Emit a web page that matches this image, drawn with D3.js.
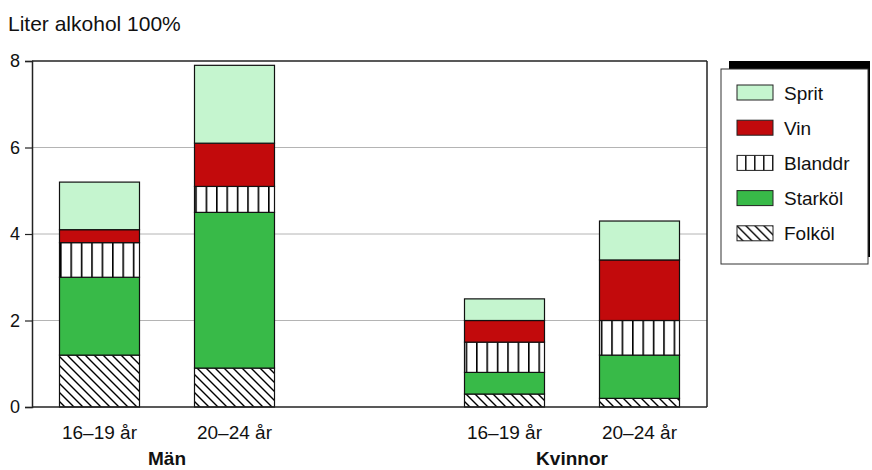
<!DOCTYPE html>
<html>
<head>
<meta charset="utf-8">
<script src="https://cdn.jsdelivr.net/npm/d3@7"></script>
<style>
  html, body { margin: 0; padding: 0; background: #fff; }
  svg { display: block; font-family: "Liberation Sans", Arial, sans-serif; }
</style>
</head>
<body>
<svg id="chart" width="872" height="470"></svg>
<script>
// Alcohol consumption (litres of pure alcohol) by sex and age group
const groups = ["Män", "Kvinnor"];
const ages = ["16–19 år", "20–24 år"];
const bars = ["m16", "m20", "k16", "k20"];
const barAge = ["16–19 år", "20–24 år", "16–19 år", "20–24 år"];
const barGroup = ["Män", "Män", "Kvinnor", "Kvinnor"];

// stacking order bottom -> top
const seriesKeys = ["Folköl", "Starköl", "Blanddr", "Vin", "Sprit"];
const folkol  = [1.2, 0.9, 0.3, 0.2];
const starkol = [1.8, 3.6, 0.5, 1.0];
const blanddr = [0.8, 0.6, 0.7, 0.8];
const vin     = [0.3, 1.0, 0.5, 1.4];
const sprit   = [1.1, 1.8, 0.5, 0.9];
const yTicks = [0, 2, 4, 6, 8];

const seriesValues = { "Folköl": folkol, "Starköl": starkol, "Blanddr": blanddr, "Vin": vin, "Sprit": sprit };

const svg = d3.select("#chart");
const plotLeft = 32, plotRight = 707, plotTop = 61, plotBottom = 407;

// patterns
const defs = svg.append("defs");
const diag = defs.append("pattern").attr("id", "pat-diag")
  .attr("patternUnits", "userSpaceOnUse").attr("width", 9).attr("height", 9);
diag.append("rect").attr("width", 9).attr("height", 9).attr("fill", "#fff");
diag.append("path").attr("d", "M-1,-1 L10,10 M-1,8 L1,10 M8,-1 L10,1")
  .attr("stroke", "#000").attr("stroke-width", 1.4);

const vert = defs.append("pattern").attr("id", "pat-vert")
  .attr("patternUnits", "userSpaceOnUse").attr("width", 10.4).attr("height", 10)
  .attr("x", 60);
vert.append("rect").attr("width", 10.4).attr("height", 10).attr("fill", "#fff");
vert.append("line").attr("x1", 0.8).attr("x2", 0.8).attr("y1", 0).attr("y2", 10)
  .attr("stroke", "#000").attr("stroke-width", 1.6);

const vertL = defs.append("pattern").attr("id", "pat-vert-l")
  .attr("patternUnits", "userSpaceOnUse").attr("width", 9).attr("height", 10)
  .attr("x", 737);
vertL.append("rect").attr("width", 9).attr("height", 10).attr("fill", "#fff");
vertL.append("line").attr("x1", 0.8).attr("x2", 0.8).attr("y1", 0).attr("y2", 10)
  .attr("stroke", "#000").attr("stroke-width", 1.4);

const fills = {
  "Folköl": "url(#pat-diag)",
  "Starköl": "#38ba48",
  "Blanddr": "url(#pat-vert)",
  "Vin": "#c20a0c",
  "Sprit": "#c5f5cf"
};
const legendFills = Object.assign({}, fills, { "Blanddr": "url(#pat-vert-l)" });

// scales: five slots, the middle one is the gap between the two groups
const x = d3.scaleBand()
  .domain(["m16", "m20", "gap", "k16", "k20"])
  .range([plotLeft, plotRight])
  .paddingInner(55 / 135)
  .paddingOuter(27.5 / 135);
const y = d3.scaleLinear().domain([0, 8]).range([plotBottom, plotTop]);

// gridlines
svg.append("g").selectAll("line").data(yTicks.filter(d => d > 0 && d < 8)).join("line")
  .attr("x1", plotLeft).attr("x2", plotRight)
  .attr("y1", d => y(d)).attr("y2", d => y(d))
  .attr("stroke", "#b4b4b4").attr("stroke-width", 1);

// stacked bars
const rows = bars.map((b, i) => {
  const r = { key: b };
  seriesKeys.forEach(k => r[k] = seriesValues[k][i]);
  return r;
});
const stacked = d3.stack().keys(seriesKeys)(rows);

svg.append("g").selectAll("g").data(stacked).join("g")
  .attr("fill", d => fills[d.key])
  .selectAll("rect").data(d => d).join("rect")
  .attr("x", d => x(d.data.key))
  .attr("width", x.bandwidth())
  .attr("y", d => y(d[1]))
  .attr("height", d => y(d[0]) - y(d[1]))
  .attr("stroke", "#111").attr("stroke-width", 1.2);

// frame: top line, right border, baseline
svg.append("line").attr("x1", plotLeft).attr("x2", plotRight).attr("y1", y(8)).attr("y2", y(8))
  .attr("stroke", "#222").attr("stroke-width", 1.5);
svg.append("line").attr("x1", plotRight).attr("x2", plotRight).attr("y1", y(8)).attr("y2", y(0))
  .attr("stroke", "#222").attr("stroke-width", 1.5);
svg.append("line").attr("x1", plotLeft).attr("x2", plotRight).attr("y1", y(0)).attr("y2", y(0))
  .attr("stroke", "#222").attr("stroke-width", 1.5);

// y axis
const yAxis = svg.append("g").attr("transform", `translate(${plotLeft},0)`)
  .call(d3.axisLeft(y).tickValues(yTicks).tickSize(7).tickPadding(5).tickFormat(d3.format("d")));
yAxis.select(".domain").attr("stroke", "#222").attr("stroke-width", 1.5);
yAxis.selectAll(".tick line").attr("stroke", "#222").attr("stroke-width", 1.2);
yAxis.selectAll(".tick text").attr("font-size", 18).attr("fill", "#111")
  .attr("font-family", "Liberation Sans, Arial, sans-serif");

// category labels
svg.append("g").selectAll("text").data(bars).join("text")
  .attr("x", d => x(d) + x.bandwidth() / 2)
  .attr("y", 439)
  .attr("text-anchor", "middle")
  .attr("font-size", 19).attr("fill", "#111")
  .text((d, i) => barAge[i]);

// group labels
svg.append("g").selectAll("text").data(groups).join("text")
  .attr("x", g => {
    const idx = bars.filter((b, i) => barGroup[i] === g);
    return (x(idx[0]) + x(idx[idx.length - 1]) + x.bandwidth()) / 2;
  })
  .attr("y", 465)
  .attr("text-anchor", "middle")
  .attr("font-size", 19).attr("font-weight", "bold").attr("fill", "#111")
  .text(g => g);

// y axis title
svg.append("text").attr("x", 8).attr("y", 31)
  .attr("font-size", 21).attr("fill", "#111")
  .text("Liter alkohol 100%");

// legend with offset shadow
const lg = svg.append("g");
lg.append("rect").attr("x", 729).attr("y", 61).attr("width", 141).attr("height", 196)
  .attr("fill", "#000");
lg.append("rect").attr("x", 721).attr("y", 69).attr("width", 147).attr("height", 195)
  .attr("fill", "#fff").attr("stroke", "#333").attr("stroke-width", 1);

const legendOrder = ["Sprit", "Vin", "Blanddr", "Starköl", "Folköl"];
const li = lg.selectAll("g.item").data(legendOrder).join("g")
  .attr("class", "item")
  .attr("transform", (d, i) => `translate(737,${85 + i * 35.2})`);
li.append("rect").attr("width", 36).attr("height", 15)
  .attr("fill", d => legendFills[d]).attr("stroke", "#222").attr("stroke-width", 1);
li.append("text").attr("x", 47).attr("y", 14.5)
  .attr("font-size", 19).attr("fill", "#111")
  .text(d => d);
</script>
</body>
</html>
